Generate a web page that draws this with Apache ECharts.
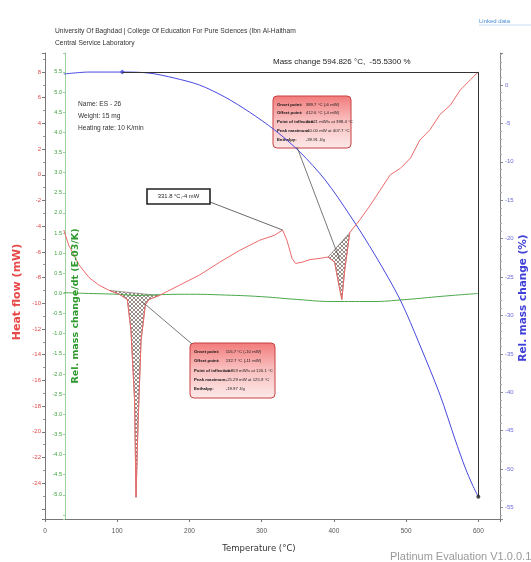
<!DOCTYPE html>
<html>
<head>
<meta charset="utf-8">
<script src="https://cdn.jsdelivr.net/npm/echarts@6/dist/echarts.min.js"></script>
<style>
html, body { margin: 0; padding: 0; background: #fff; overflow: hidden; }
#main { width: 531px; height: 562px; }
</style>
</head>
<body>
<div id="main"></div>
<script>
// heat flow (DSC), mW
var heatT = [26,33,47,61,75,89,103,114,119,124,126,129,133,139,144,158,172,186,214,242,269,297,318,329,335,342,347,356,367,381,392,401,407,411,415,422,436,450,464,478,492,506,519,533,547,561,575,589,600];
var heatV = [-4.3,-5.5,-7.0,-8.0,-8.6,-9.0,-9.3,-9.7,-12.1,-17.5,-25.1,-19.1,-12.9,-10.1,-9.7,-9.4,-9.0,-8.6,-7.8,-6.8,-5.9,-5.1,-4.7,-4.3,-5.1,-6.5,-6.9,-6.8,-6.6,-6.5,-6.4,-6.8,-8.6,-9.7,-7.4,-4.5,-3.5,-2.4,-1.2,0.0,0.5,1.3,2.7,3.5,4.7,5.4,6.6,7.4,8.0];
// DTG, E-03/K
var dtgT = [26,60,100,130,160,200,250,300,350,400,450,500,550,600];
var dtgV = [0.02,0.0,-0.02,-0.05,-0.03,-0.02,-0.04,-0.08,-0.15,-0.2,-0.2,-0.15,-0.07,0.0];
// TG, rel. mass change %
var tgT = [26,61,107,144,179,214,249,283,318,353,388,422,457,492,519,547,568,582,592,600];
var tgV = [1.43,1.69,1.69,1.56,0.91,0,-1.56,-3.52,-5.86,-8.72,-12.37,-16.93,-22.14,-28.0,-33.85,-40.36,-46.2,-49.87,-52.08,-53.6];
// integrated peaks (temperature ranges)
var peakRanges = [[89, 158], [392, 422]];
// mass change step
var stepT = [107, 600];
var stepV = [1.69, -53.6];

function zip(a, b) { return a.map(function (v, i) { return [v, b[i]]; }); }

var FONT = 'Liberation Sans, DejaVu Sans, sans-serif';
var WIDE = 'DejaVu Sans, sans-serif';

// crosshatch pattern for the peak areas
var pc = document.createElement('canvas');
pc.width = 4; pc.height = 4;
var g = pc.getContext('2d');
g.strokeStyle = 'rgba(80,60,50,0.85)';
g.lineWidth = 0.7;
g.beginPath(); g.moveTo(0, 4); g.lineTo(4, 0); g.stroke();
g.beginPath(); g.moveTo(0, 0); g.lineTo(4, 4); g.stroke();
var hatch = { image: pc, repeat: 'repeat' };

function onlyIn(lo, hi, dec) {
  return function (v) {
    if (v < lo - 1e-6 || v > hi + 1e-6) return '';
    return dec ? v.toFixed(dec) : String(Math.round(v));
  };
}

var chart = echarts.init(document.getElementById('main'));
var option = {
  animation: false,
  backgroundColor: '#fff',
  grid: { left: 45, right: 31, top: 53, bottom: 43 },
  xAxis: {
    type: 'value', min: 0, max: 630, interval: 100,
    axisLine: { onZero: false, lineStyle: { color: '#777' } },
    axisTick: { length: 3, lineStyle: { color: '#777' } },
    splitLine: { show: false },
    axisLabel: { fontSize: 6.5, color: '#555', margin: 9, fontFamily: FONT, formatter: onlyIn(0, 600, 0) }
  },
  yAxis: [
    {
      type: 'value', position: 'left', offset: 0, min: -26.79, max: 9.48, splitNumber: 18,
      axisLine: { show: true, onZero: false, lineStyle: { color: '#777' } },
      axisTick: { show: true, length: 3, lineStyle: { color: '#777' } },
      minorTick: { show: true, splitNumber: 2, length: 2, lineStyle: { color: '#999' } },
      splitLine: { show: false },
      axisLabel: { fontSize: 6, color: '#e04848', margin: 4, fontFamily: FONT, formatter: onlyIn(-24, 8, 0) }
    },
    {
      type: 'value', position: 'left', offset: -20, min: -5.6, max: 5.97, splitNumber: 23,
      axisLine: { show: true, onZero: false, lineStyle: { color: '#9cd09c' } },
      axisTick: { show: true, length: 2, lineStyle: { color: '#9cd09c' } },
      splitLine: { show: false },
      axisLabel: { fontSize: 5.5, color: '#3aa03a', margin: 3, fontFamily: FONT, formatter: onlyIn(-5, 5.5, 1) }
    },
    {
      type: 'value', position: 'right', offset: 0, min: -56.5, max: 4.17, splitNumber: 12,
      axisLine: { show: true, onZero: false, lineStyle: { color: '#888' } },
      axisTick: { show: true, length: 3, lineStyle: { color: '#888' } },
      minorTick: { show: true, splitNumber: 5, length: 2, lineStyle: { color: '#aaa' } },
      splitLine: { show: false },
      axisLabel: { fontSize: 6, color: '#6a6ad8', margin: 5, fontFamily: FONT, formatter: onlyIn(-55, 0, 0) }
    }
  ],
  series: [
    {
      type: 'custom', xAxisIndex: 0, yAxisIndex: 0, silent: true, z: 1,
      data: [[0], [1]],
      renderItem: function (params, api) {
        var r = peakRanges[params.dataIndex];
        var pts = [];
        for (var i = 0; i < heatT.length; i++) {
          if (heatT[i] >= r[0] && heatT[i] <= r[1]) pts.push(api.coord([heatT[i], heatV[i]]));
        }
        return { type: 'polygon', shape: { points: pts }, style: { fill: hatch, stroke: '#6a5a55', lineWidth: 0.6 } };
      }
    },
    {
      name: 'Heat flow', type: 'line', xAxisIndex: 0, yAxisIndex: 0, z: 3,
      data: zip(heatT, heatV), showSymbol: false,
      lineStyle: { color: '#ee6a6a', width: 1 }
    },
    {
      name: 'DTG', type: 'line', xAxisIndex: 0, yAxisIndex: 1, z: 2, smooth: true,
      data: zip(dtgT, dtgV), showSymbol: false,
      lineStyle: { color: '#49a849', width: 1 }
    },
    {
      name: 'TG', type: 'line', xAxisIndex: 0, yAxisIndex: 2, z: 2, smooth: 0.3,
      data: zip(tgT, tgV), showSymbol: false,
      lineStyle: { color: '#4848e0', width: 1 },
      markLine: {
        silent: true, symbol: ['none', 'arrow'], symbolSize: [0, 7],
        lineStyle: { color: '#333', width: 1, type: 'solid' },
        label: { show: false },
        data: [
          [{ coord: [stepT[0], stepV[0]] }, { coord: [stepT[1], stepV[0]] }],
          [{ coord: [stepT[1], stepV[0]] }, { coord: [stepT[1], stepV[1]] }]
        ]
      }
    },
    {
      type: 'scatter', xAxisIndex: 0, yAxisIndex: 2, z: 4,
      data: [[stepT[0], stepV[0]]], symbol: 'diamond', symbolSize: 5,
      itemStyle: { color: '#4848e0' }
    },
    {
      type: 'scatter', xAxisIndex: 0, yAxisIndex: 2, z: 4,
      data: [[stepT[1], stepV[1]]], symbol: 'circle', symbolSize: 4,
      itemStyle: { color: '#222' }
    }
  ]
};
chart.setOption(option);

function txt(x, y, s, size, color, extra) {
  extra = extra || {};
  var st = { text: s, x: 0, y: 0, fill: color, font: (extra.weight ? extra.weight + ' ' : '') + size + 'px ' + (extra.family || FONT),
    align: extra.align || 'left', verticalAlign: 'middle', textAlign: extra.align || 'left', textVerticalAlign: 'middle' };
  return { type: 'text', x: x, y: y, rotation: extra.rot || 0, style: st, z: 20 };
}

function table(x, y, w, h, rows) {
  var children = [{
    type: 'rect', shape: { x: 0, y: 0, width: w, height: h, r: 4 },
    style: {
      fill: new echarts.graphic.LinearGradient(0, 0, 0, 1, [
        { offset: 0, color: '#f27a7a' }, { offset: 0.45, color: '#f9bcbc' }, { offset: 1, color: '#fde9e9' }
      ]),
      stroke: '#c84040', lineWidth: 1
    }
  }];
  var rh = (h - 8) / rows.length;
  rows.forEach(function (r, i) {
    var yy = 4 + rh * (i + 0.5);
    children.push({ type: 'text', x: 4, y: yy, style: { text: r[0], fill: '#111', font: 'bold 4.3px ' + FONT, verticalAlign: 'middle', textVerticalAlign: 'middle' } });
    children.push({ type: 'text', x: w * 0.42, y: yy, style: { text: r[1], fill: '#222', font: '4.3px ' + FONT, verticalAlign: 'middle', textVerticalAlign: 'middle' } });
  });
  return { type: 'group', x: x, y: y, z: 15, children: children };
}

var p1 = chart.convertToPixel({ xAxisIndex: 0, yAxisIndex: 0 }, [135, -9.9]);
var p2 = chart.convertToPixel({ xAxisIndex: 0, yAxisIndex: 0 }, [408, -6.6]);
var pk = chart.convertToPixel({ xAxisIndex: 0, yAxisIndex: 0 }, [329, -4.3]);

var upperRows = [
  ['Onset point:', '389.7 °C (-6 mW)'],
  ['Offset point:', '412.6 °C (-4 mW)'],
  ['Point of inflection:', '-0.021 mW/s at 398.4 °C'],
  ['Peak maximum:', '-10.00 mW at 407.7 °C'],
  ['Enthalpy:', '-39.91 J/g']
];
var lowerRows = [
  ['Onset point:', '116.7 °C (-10 mW)'],
  ['Offset point:', '132.7 °C (-11 mW)'],
  ['Point of inflection:', '-0.803 mW/s at 120.1 °C'],
  ['Peak maximum:', '-25.29 mW at 125.9 °C'],
  ['Enthalpy:', '-19.97 J/g']
];

chart.setOption({
  graphic: [
    txt(55, 31, 'University Of Baghdad | College Of Education For Pure Sciences (Ibn Al-Haitham', 6.7, '#333'),
    txt(55, 43, 'Central Service Laboratory', 6.7, '#333'),
    txt(479, 21, 'Linked data', 6, '#4a8fd8'),
    { type: 'line', shape: { x1: 479, y1: 25, x2: 531, y2: 25 }, style: { stroke: '#8ab8e8', lineWidth: 0.5 } },
    txt(78, 104, 'Name: ES - 26', 6.6, '#333'),
    txt(78, 116, 'Weight: 15 mg', 6.6, '#333'),
    txt(78, 128, 'Heating rate: 10 K/min', 6.6, '#333'),
    txt(273, 62, 'Mass change 594.826 °C,  -55.5300 %', 8, '#222'),
    txt(17, 292, 'Heat flow (mW)', 11, '#e84848', { rot: Math.PI / 2, align: 'center', weight: 'bold', family: WIDE }),
    txt(76, 306, 'Rel. mass change/dt (E-03/K)', 9.5, '#2e9a2e', { rot: Math.PI / 2, align: 'center', weight: 'bold', family: WIDE }),
    txt(523, 298, 'Rel. mass change (%)', 10.5, '#4040d8', { rot: Math.PI / 2, align: 'center', weight: 'bold', family: WIDE }),
    txt(259, 549, 'Temperature (°C)', 8.5, '#333', { align: 'center', family: WIDE }),
    txt(390, 557, 'Platinum Evaluation V1.0.0.120', 11, '#9a9a9a'),
    // peak label box
    { type: 'rect', shape: { x: 147, y: 189, width: 63, height: 15 }, style: { fill: '#fff', stroke: '#222', lineWidth: 1.6 }, z: 15 },
    txt(178.5, 196.5, '331.8 °C,-4 mW', 5.8, '#222', { align: 'center' }),
    { type: 'line', shape: { x1: 210, y1: 202, x2: pk[0], y2: pk[1] }, style: { stroke: '#444', lineWidth: 0.8 }, z: 14 },
    // result tables with leader lines
    { type: 'line', shape: { x1: 297, y1: 147, x2: p2[0], y2: p2[1] }, style: { stroke: '#555', lineWidth: 0.8 }, z: 14 },
    { type: 'line', shape: { x1: 192, y1: 344, x2: p1[0], y2: p1[1] }, style: { stroke: '#555', lineWidth: 0.8 }, z: 14 },
    table(273, 96, 78, 52, upperRows),
    table(190, 343, 85, 55, lowerRows)
  ]
});
</script>
</body>
</html>
